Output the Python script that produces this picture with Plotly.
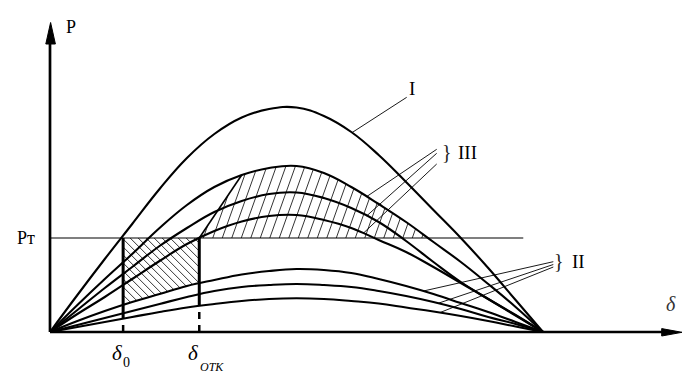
import numpy as np
import plotly.graph_objects as go

# ---------------- data ----------------
delta = [0, 10, 20, 30, 40, 50, 60, 70, 80, 90, 100, 110, 120, 130, 140, 150, 160, 170, 180]
P_I = [0, 37, 73, 108, 143, 174, 198, 214.5, 223, 224.5, 216, 200, 177, 150, 122, 94, 64, 32, 0]
P_III_top = [0, 27, 53, 78, 104, 127, 145, 157, 164, 166, 159, 145, 128, 110, 90, 70, 48, 25, 0]
P_III_mid = [0, 22, 44, 65, 86, 104, 120, 131, 138, 139.5, 134, 124, 110, 91, 70, 50, 33, 17, 0]
P_III_low = [0, 18, 35, 53, 71, 88, 101, 110.5, 116, 117, 112, 104, 92, 80, 65, 49, 33, 16.5, 0]
P_II_top = [0, 11, 21, 30, 38, 46, 52, 57.5, 61, 63, 62, 59, 53, 46, 38, 29, 20, 10, 0]
P_II_mid = [0, 7, 14, 21, 28, 35, 41, 45, 47, 48, 47, 45, 41, 36, 30, 23, 15, 8, 0]
P_II_low = [0, 5, 10, 15, 20, 24.5, 28, 31, 33, 33.7, 33, 31, 28.5, 24.5, 20.5, 16, 11, 5.5, 0]

P_T = 94            # turbine power level Pт
delta_0 = 26.7      # initial angle
delta_otk = 54.5    # fault clearing angle
delta_switch = 70   # angle where the switching line reaches curve III (top)
P_T_line_end = 172.8

labels_curves = ["I", "III", "II"]

# ---------------- geometry helpers ----------------
W, H = 692, 381
X0, Y0 = 50.0, 332.0
KX = (543.0 - 50.0) / 180.0
KY = 1.0

def to_px(d, p):
    return X0 + np.asarray(d, float) * KX, Y0 - np.asarray(p, float) * KY

def to_data(xp, yp):
    return (np.asarray(xp, float) - X0) / KX, (Y0 - np.asarray(yp, float)) / KY

def curve_px_y(curve, xp):
    d, _ = to_data(xp, 0)
    return Y0 - np.interp(d, delta, curve) * KY

def paper(xp, yp):
    return xp / W, 1 - yp / H

fig = go.Figure()
BLACK = "#000000"

# ---------------- hatch region 1 (acceleration area) ----------------
segs_x, segs_y = [], []
x0p, _ = to_px(delta_0, 0)
xop, yPt = to_px(delta_otk, P_T)
x0p, xop, yPt = float(x0p), float(xop), float(yPt)
xs = np.linspace(x0p, xop, 800)
ybot = curve_px_y(P_II_top, xs)
c = x0p - (ybot[0] - yPt) + 2
while c < xop:
    yl = yPt + (xs - c)
    inside = (yl >= yPt) & (yl <= ybot)
    if inside.any():
        idx = np.where(inside)[0]
        a, b = idx[0], idx[-1]
        dA, pA = to_data(xs[a], yl[a])
        dB, pB = to_data(xs[b], yl[b])
        segs_x += [float(dA), float(dB), None]
        segs_y += [float(pA), float(pB), None]
    c += 8.0

# ---------------- hatch region 2 (deceleration area) ----------------
xsw, ysw = to_px(delta_switch, np.interp(delta_switch, delta, P_III_top))
xsw, ysw = float(xsw), float(ysw)
xs2 = np.linspace(xop, 560, 4000)
U = np.where(xs2 <= xsw, yPt + (ysw - yPt) * (xs2 - xop) / (xsw - xop),
             curve_px_y(P_III_top, xs2))
right = xs2[np.where((xs2 > xsw) & (U >= yPt))[0][0]]
m = 2.8
c = xop + 4
while c < right:
    sel = xs2 >= c
    xx = xs2[sel]
    yl = yPt - m * (xx - c)
    hit = np.where(yl <= U[sel])[0]
    if len(hit):
        xe = xx[hit[0]]
        ye = yl[hit[0]]
        dA, pA = to_data(c, yPt)
        dB, pB = to_data(xe, ye)
        segs_x += [float(dA), float(dB), None]
        segs_y += [float(pA), float(pB), None]
    c += 9.5

fig.add_trace(go.Scatter(x=segs_x, y=segs_y, mode="lines",
                         line=dict(color=BLACK, width=0.8), hoverinfo="skip"))

# ---------------- Pт line ----------------
fig.add_trace(go.Scatter(x=[0, P_T_line_end], y=[P_T, P_T], mode="lines",
                         line=dict(color=BLACK, width=1.1), hoverinfo="skip"))

# ---------------- switching line ----------------
fig.add_trace(go.Scatter(x=[delta_otk, delta_switch],
                         y=[P_T, np.interp(delta_switch, delta, P_III_top)],
                         mode="lines", line=dict(color=BLACK, width=1.6), hoverinfo="skip"))

# ---------------- curves ----------------
for crv in [P_I, P_III_top, P_III_mid, P_III_low, P_II_top, P_II_mid, P_II_low]:
    fig.add_trace(go.Scatter(x=delta, y=crv, mode="lines",
                             line=dict(color=BLACK, width=2.1, shape="spline", smoothing=1.2),
                             hoverinfo="skip"))

# ---------------- vertical delta lines ----------------
for dv in [delta_0, delta_otk]:
    p_low = float(np.interp(dv, delta, P_II_low))
    fig.add_trace(go.Scatter(x=[dv, dv], y=[P_T, p_low], mode="lines",
                             line=dict(color=BLACK, width=3), hoverinfo="skip"))
    fig.add_trace(go.Scatter(x=[dv, dv], y=[0, p_low], mode="lines",
                             line=dict(color=BLACK, width=2.5, dash="7px,6px"),
                             hoverinfo="skip"))

# ---------------- leader lines ----------------
def leader(curve, xp_end, xp_start, yp_start):
    d_end, _ = to_data(xp_end, 0)
    p_end = float(np.interp(d_end, delta, curve))
    ds, ps = to_data(xp_start, yp_start)
    fig.add_trace(go.Scatter(x=[float(d_end), float(ds)], y=[p_end, float(ps)], mode="lines",
                             line=dict(color=BLACK, width=0.9), hoverinfo="skip"))

leader(P_I, 352, 406.7, 97.3)
leader(P_III_top, 366.7, 436.7, 149.3)
leader(P_III_mid, 366.7, 436.7, 153.3)
leader(P_III_low, 363.3, 436.7, 164.0)
leader(P_II_top, 423.3, 553.3, 261.7)
leader(P_II_mid, 438.3, 553.3, 264.5)
leader(P_II_low, 440.0, 553.3, 267.0)

# ---------------- axes with arrows ----------------
ax_end_d, _ = to_data(664, 0)
fig.add_trace(go.Scatter(x=[0, float(ax_end_d)], y=[0, 0], mode="lines",
                         line=dict(color=BLACK, width=2.7), hoverinfo="skip"))
_, ay_end = to_data(0, 42)
fig.add_trace(go.Scatter(x=[0, 0], y=[0, float(ay_end)], mode="lines",
                         line=dict(color=BLACK, width=2.7), hoverinfo="skip"))
tx, ty = to_data([661.7, 682.0, 661.7, 661.7], [328.6, 332.3, 336.0, 328.6])
fig.add_trace(go.Scatter(x=tx, y=ty, mode="lines", fill="toself", fillcolor=BLACK,
                         line=dict(color=BLACK, width=1), hoverinfo="skip"))
tx, ty = to_data([45.8, 50.6, 55.4, 45.8], [44.0, 22.5, 44.0, 44.0])
fig.add_trace(go.Scatter(x=tx, y=ty, mode="lines", fill="toself", fillcolor=BLACK,
                         line=dict(color=BLACK, width=1), hoverinfo="skip"))

# ---------------- text ----------------
SERIF = "Liberation Serif, Times New Roman, serif"

def txt(s, xp, yp, size, color=BLACK, italic=False):
    px_, py_ = paper(xp, yp)
    fig.add_annotation(x=px_, y=py_, xref="paper", yref="paper", text=s, showarrow=False,
                       xanchor="center", yanchor="middle",
                       font=dict(family=SERIF, size=size, color=color,
                                 style="italic" if italic else "normal"))

txt("P", 71, 27, 18)
txt("Pт", 26, 238, 18)
txt("δ", 671, 304, 20, color="#333333", italic=True)
txt("δ", 117, 353, 21, italic=True)
txt("0", 126, 362, 14)
txt("δ", 193, 353, 21, italic=True)
txt("ОТК", 212, 367, 12, italic=True)
txt(labels_curves[0], 412, 88, 19)
txt("}", 447, 152, 20, color="#222222")
txt(labels_curves[1], 467, 152, 19)
txt("}", 559, 261, 20, color="#222222")
txt(labels_curves[2], 578, 261, 19)

xr = [float(v) for v in to_data(np.array([0, W]), 0)[0]]
yr = [float(v) for v in to_data(0, np.array([H, 0]))[1]]
fig.update_layout(width=W, height=H, margin=dict(l=0, r=0, t=0, b=0),
                  paper_bgcolor="white", plot_bgcolor="white", showlegend=False,
                  xaxis=dict(range=xr, visible=False, fixedrange=True),
                  yaxis=dict(range=yr, visible=False, fixedrange=True))

fig.write_html("out.html", config={"displayModeBar": False},
               post_script="document.body.style.margin='0px';document.body.style.overflow='hidden';")
